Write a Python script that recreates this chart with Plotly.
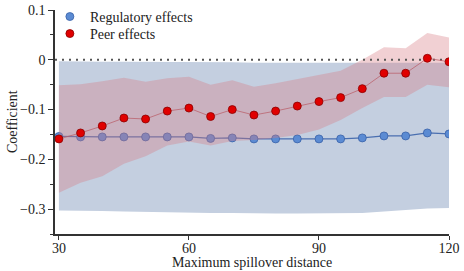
import plotly.graph_objects as go

distance = [30, 35, 40, 45, 50, 55, 60, 65, 70, 75, 80, 85, 90, 95, 100, 105, 110, 115, 120]

reg_coef = [-0.154, -0.155, -0.155, -0.155, -0.155, -0.155, -0.155, -0.158, -0.157, -0.159, -0.159,
            -0.159, -0.159, -0.159, -0.157, -0.153, -0.153, -0.147, -0.149]
reg_upper = [-0.003, -0.004, -0.004, -0.004, -0.004, -0.005, -0.005, -0.005, -0.005, -0.006, -0.006,
             -0.006, -0.006, -0.006, -0.006, -0.006, -0.006, -0.006, -0.006]
reg_lower = [-0.303, -0.303, -0.304, -0.305, -0.306, -0.306, -0.307, -0.308, -0.308, -0.309, -0.309,
             -0.309, -0.309, -0.309, -0.308, -0.305, -0.302, -0.299, -0.298]

peer_coef = [-0.159, -0.147, -0.133, -0.117, -0.119, -0.103, -0.097, -0.114, -0.100, -0.111, -0.103,
             -0.093, -0.084, -0.076, -0.058, -0.027, -0.027, 0.003, -0.004]
peer_upper = [-0.051, -0.049, -0.043, -0.036, -0.044, -0.037, -0.034, -0.050, -0.041, -0.054, -0.047,
              -0.039, -0.030, -0.022, 0.000, 0.025, 0.023, 0.054, 0.045]
peer_lower = [-0.267, -0.247, -0.234, -0.209, -0.194, -0.172, -0.164, -0.172, -0.163, -0.161, -0.157,
              -0.151, -0.140, -0.121, -0.097, -0.075, -0.075, -0.050, -0.055]

x_ticks = [30, 60, 90, 120]
legend_names = ["Regulatory effects", "Peer effects"]
x_title = "Maximum spillover distance"
y_title = "Coefficient"

FONT = "Liberation Serif, Times New Roman, serif"
BLUE_FILL = "rgba(196,207,224,1)"
RED_FILL = "rgba(214,120,130,0.35)"
BLUE_MK = "#5b8bd3"
RED_MK = "#e00000"

fig = go.Figure()

# regulatory band
fig.add_trace(go.Scatter(x=distance, y=reg_upper, mode="lines", line=dict(width=0),
                         showlegend=False, hoverinfo="skip"))
fig.add_trace(go.Scatter(x=distance, y=reg_lower, mode="lines", line=dict(width=0),
                         fill="tonexty", fillcolor=BLUE_FILL, showlegend=False, hoverinfo="skip"))
# regulatory line
fig.add_trace(go.Scatter(x=distance, y=reg_coef, mode="lines+markers",
                         line=dict(color="#4a6fb0", width=1.2),
                         marker=dict(size=8, color=BLUE_MK, line=dict(color="#3a62a8", width=0.8)),
                         showlegend=False))
# peer band
fig.add_trace(go.Scatter(x=distance, y=peer_upper, mode="lines", line=dict(width=0),
                         showlegend=False, hoverinfo="skip"))
fig.add_trace(go.Scatter(x=distance, y=peer_lower, mode="lines", line=dict(width=0),
                         fill="tonexty", fillcolor=RED_FILL, showlegend=False, hoverinfo="skip"))
# zero line
fig.add_trace(go.Scatter(x=[distance[0] - 0.9, distance[-1]], y=[0, 0], mode="lines",
                         line=dict(color="#555555", width=2, dash="2px,5px"),
                         showlegend=False, hoverinfo="skip"))
# peer line
fig.add_trace(go.Scatter(x=distance, y=peer_coef, mode="lines+markers",
                         line=dict(color="rgba(185,95,105,0.75)", width=1),
                         marker=dict(size=8, color=RED_MK, line=dict(color="#8a0000", width=0.8)),
                         showlegend=False))
# legend entries (two separate legends for tight spacing)
fig.add_trace(go.Scatter(x=[None], y=[None], mode="markers", name=legend_names[0], legend="legend",
                         marker=dict(size=8, color=BLUE_MK, line=dict(color="#3a62a8", width=0.8))))
fig.add_trace(go.Scatter(x=[None], y=[None], mode="markers", name=legend_names[1], legend="legend2",
                         marker=dict(size=8, color=RED_MK, line=dict(color="#8a0000", width=0.8))))

leg_common = dict(x=-0.013, xanchor="left", yanchor="middle", bgcolor="rgba(0,0,0,0)",
                  font=dict(size=14), itemwidth=30)

fig.update_layout(
    width=464, height=271,
    margin=dict(l=55, r=15, t=10, b=37, autoexpand=False),
    paper_bgcolor="white", plot_bgcolor="white",
    font=dict(family=FONT, size=14, color="#222222"),
    legend=dict(y=0.969, **leg_common),
    legend2=dict(y=0.893, **leg_common),
    xaxis=dict(range=[29.1, 120], tickvals=x_ticks, ticks="outside", ticklen=4,
               tickcolor="#333333", showline=True, linecolor="#333333", linewidth=1.5,
               showgrid=False, zeroline=False, automargin=False, ticklabelstandoff=-4,
               tickfont=dict(size=14)),
    yaxis=dict(range=[-0.35, 0.1], dtick=0.1, tick0=0, ticks="outside", ticklen=5,
               tickcolor="#333333", showline=True, linecolor="#333333", linewidth=1.5,
               showgrid=False, zeroline=False, automargin=False,
               minor=dict(dtick=0.05, ticks="outside", ticklen=3, tickcolor="#333333")),
    annotations=[
        dict(text=x_title, xref="paper", yref="paper", x=0.5, y=-0.128,
             xanchor="center", yanchor="middle", showarrow=False, font=dict(size=14)),
        dict(text=y_title, xref="paper", yref="paper", x=-0.109, y=0.5, textangle=-90,
             xanchor="center", yanchor="middle", showarrow=False, font=dict(size=14)),
    ],
)

fig.write_html("out.html")
